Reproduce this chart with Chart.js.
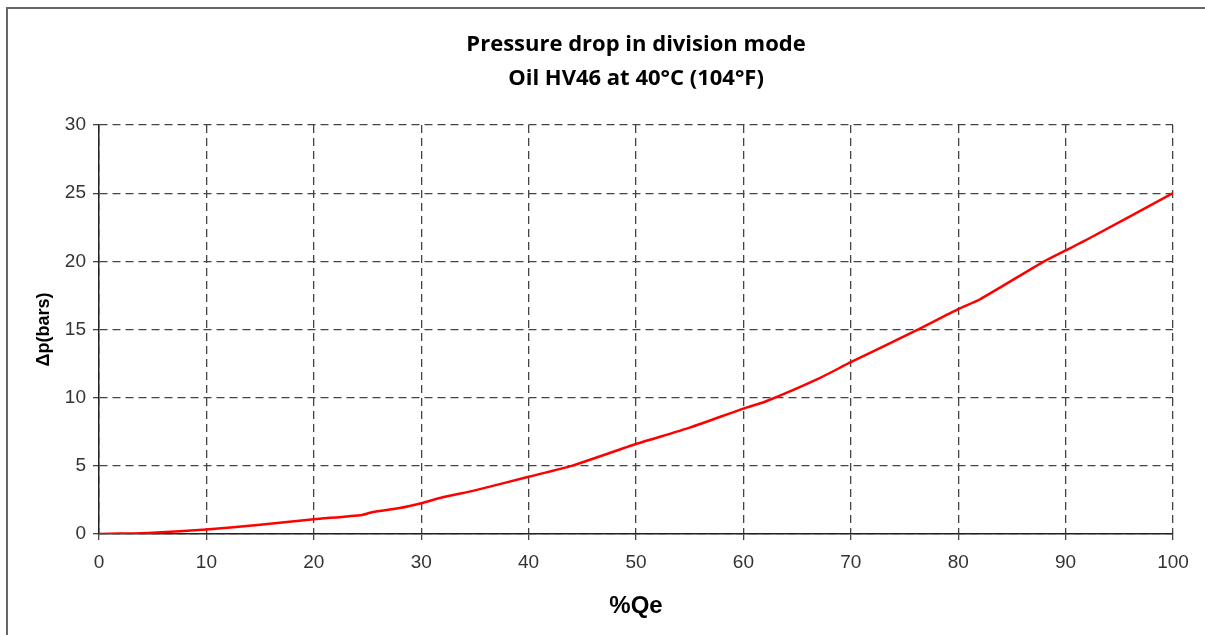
<!DOCTYPE html>
<html>
<head>
<meta charset="utf-8">
<script src="https://cdn.jsdelivr.net/npm/chart.js@4.4.1/dist/chart.umd.min.js"></script>
<style>
  html, body { margin: 0; padding: 0; background: #fff; }
  #wrap { position: relative; width: 1205px; height: 635px; }
  #frame { position: absolute; left: 6px; top: 7px; right: 0; bottom: 0; border-left: 2px solid #666; border-top: 2px solid #666; pointer-events: none; }
  canvas { position: absolute; left: 0; top: 0; }
</style>
</head>
<body>
<div id="wrap">
  <canvas id="c" width="1205" height="635"></canvas>
  <div id="frame"></div>
</div>
<script>
const titleLines = ["Pressure drop in division mode", "Oil HV46 at 40°C (104°F)"];
const xAxisTitle = "%Qe";
const yAxisTitle = "Δp(bars)";
const flowPercent = [0, 2, 5, 10, 15, 20, 24.5, 25.5, 28, 30, 32, 35, 40, 44, 50, 55, 60, 62, 67, 70, 76, 80, 82, 88, 90, 92, 100];
const pressureDrop = [0, 0.03, 0.1, 0.33, 0.67, 1.08, 1.4, 1.62, 1.9, 2.25, 2.7, 3.2, 4.2, 5.0, 6.6, 7.8, 9.2, 9.7, 11.4, 12.6, 14.9, 16.5, 17.2, 20.0, 20.8, 21.6, 25.0];
const xTicks = [0, 10, 20, 30, 40, 50, 60, 70, 80, 90, 100];
const yTicks = [0, 5, 10, 15, 20, 25, 30];

const points = flowPercent.map((x, i) => ({ x: x, y: pressureDrop[i] }));

// Title centred over the plot area (as in the reference)
const centeredTitle = {
  id: 'centeredTitle',
  afterDraw(chart) {
    const ctx = chart.ctx;
    const area = chart.chartArea;
    const cx = (area.left + area.right) / 2;
    ctx.save();
    ctx.fillStyle = '#000';
    ctx.font = 'bold 22px "Open Sans"';
    ctx.textAlign = 'center';
    ctx.textBaseline = 'middle';
    ctx.fillText(titleLines[0], cx, 45);
    ctx.fillText(titleLines[1], cx, 79);
    ctx.restore();
  }
};

new Chart(document.getElementById('c'), {
  type: 'line',
  data: {
    datasets: [{
      data: points,
      borderColor: '#ff0000',
      borderWidth: 2.5,
      pointRadius: 0,
      tension: 0.2,
      fill: false
    }]
  },
  options: {
    responsive: false,
    animation: false,
    devicePixelRatio: 1,
    layout: { padding: { left: 0, right: 32, top: 125, bottom: 0 } },
    plugins: {
      legend: { display: false },
      tooltip: { enabled: false },
      title: { display: false }
    },
    scales: {
      x: {
        type: 'linear',
        min: 0, max: 100,
        afterBuildTicks: (s) => { s.ticks = xTicks.map(v => ({ value: v })); },
        afterFit: (s) => { s.height = 101; },
        ticks: { color: '#333', font: { family: 'Liberation Sans', size: 19 }, padding: 11, maxRotation: 0 },
        grid: { color: '#444', lineWidth: 1.3, tickLength: 6, drawTicks: true },
        border: { display: true, color: '#222', width: 1.5, dash: [8, 5] },
        title: { display: true, text: xAxisTitle, color: '#000', font: { family: 'Liberation Sans', size: 24, weight: 'bold' }, padding: { top: 0, bottom: 14 } }
      },
      y: {
        type: 'linear',
        min: 0, max: 30,
        afterBuildTicks: (s) => { s.ticks = yTicks.map(v => ({ value: v })); },
        afterFit: (s) => { s.width = 99; },
        ticks: { color: '#333', font: { family: 'Liberation Sans', size: 19 }, padding: 7 },
        grid: { color: '#444', lineWidth: 1.3, tickLength: 6, drawTicks: true },
        border: { display: true, color: '#222', width: 1.5, dash: [8, 5] },
        title: { display: true, text: yAxisTitle, color: '#000', font: { family: 'Liberation Sans', size: 18, weight: 'bold' }, padding: { top: 33, bottom: 0 } }
      }
    }
  },
  plugins: [centeredTitle]
});
</script>
</body>
</html>
